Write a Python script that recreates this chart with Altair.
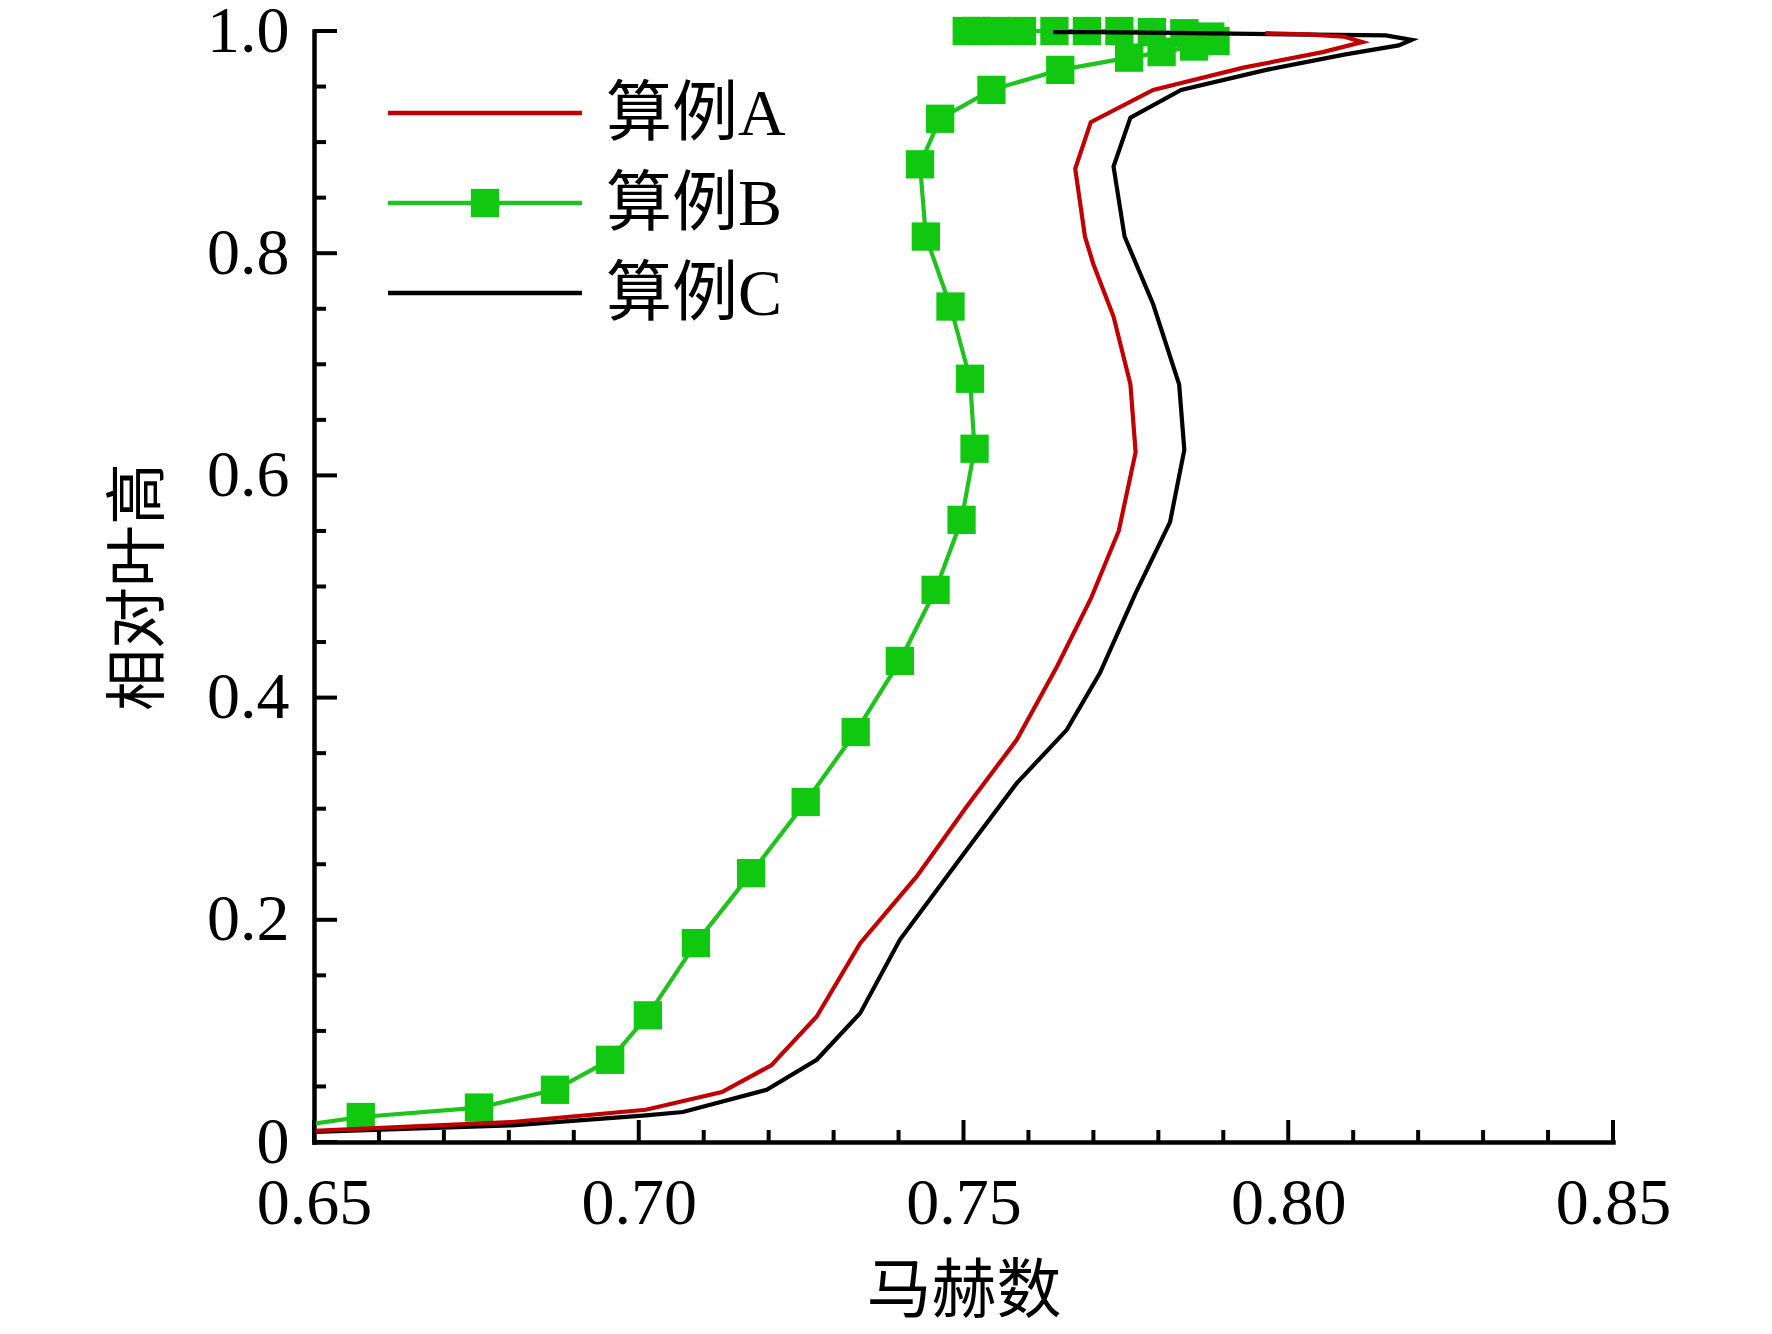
import altair as alt
import pandas as pd

# ---------------- data ----------------
A_mach = [0.6500, 0.6805, 0.7011, 0.7128, 0.7204, 0.7274, 0.7341, 0.7428, 0.7505,
          0.7582, 0.7644, 0.7696, 0.7739, 0.7765, 0.7757, 0.7731, 0.7700, 0.7687,
          0.7672, 0.7696, 0.7792, 0.7931, 0.8053, 0.8114, 0.8085, 0.8030, 0.7965]
A_h = [0.010, 0.018, 0.029, 0.045, 0.069, 0.113, 0.179, 0.239, 0.302,
       0.362, 0.428, 0.489, 0.550, 0.621, 0.682, 0.743, 0.790, 0.815,
       0.876, 0.918, 0.947, 0.967, 0.981, 0.990, 0.995, 0.997, 0.998]

B_mach = [0.6500, 0.6572, 0.6754, 0.6871, 0.6956, 0.7014, 0.7088, 0.7173, 0.7257,
          0.7334, 0.7402, 0.7457, 0.7497, 0.7517, 0.7510, 0.7480, 0.7442, 0.7433,
          0.7464, 0.7543, 0.7649, 0.7755, 0.7805, 0.7855, 0.7888, 0.7880, 0.7840,
          0.7790, 0.7740, 0.7690, 0.7640, 0.7590, 0.7550, 0.7520, 0.7505]
B_h = [0.0165, 0.0225, 0.031, 0.047, 0.074, 0.114, 0.179, 0.242, 0.306,
       0.369, 0.433, 0.497, 0.560, 0.624, 0.687, 0.752, 0.815, 0.880,
       0.921, 0.947, 0.965, 0.976, 0.981, 0.986, 0.991, 0.995, 0.998,
       0.999, 1.000, 1.000, 1.000, 1.000, 1.000, 1.000, 1.000]

C_mach = [0.6500, 0.6805, 0.7011, 0.7068, 0.7197, 0.7274, 0.7341, 0.7402, 0.7505,
          0.7582, 0.7659, 0.7710, 0.7765, 0.7818, 0.7840, 0.7832, 0.7792, 0.7748,
          0.7731, 0.7757, 0.7835, 0.7966, 0.8088, 0.8170, 0.8190, 0.8150, 0.8000,
          0.7850, 0.7700, 0.7638]
C_h = [0.009, 0.015, 0.024, 0.027, 0.047, 0.074, 0.116, 0.182, 0.263,
       0.323, 0.371, 0.422, 0.494, 0.558, 0.623, 0.682, 0.754, 0.815,
       0.878, 0.922, 0.947, 0.965, 0.979, 0.987, 0.992, 0.996, 0.997,
       0.998, 0.999, 0.999]

case_names = ["算例A", "算例B", "算例C"]
x_major = [0.65, 0.70, 0.75, 0.80, 0.85]
x_minor = [0.66, 0.67, 0.68, 0.69, 0.71, 0.72, 0.73, 0.74, 0.76, 0.77, 0.78, 0.79,
           0.81, 0.82, 0.83, 0.84]
y_major = [0.0, 0.2, 0.4, 0.6, 0.8, 1.0]
y_minor = [0.05, 0.10, 0.15, 0.25, 0.30, 0.35, 0.45, 0.50, 0.55, 0.65, 0.70, 0.75,
           0.85, 0.90, 0.95]
x_title = "马赫数"
y_title = "相对叶高"

# ---------------- styling ----------------
W, H = 1299, 1111
FONT = "Liberation Serif, Noto Sans CJK SC"
RED = "#C00000"
GREEN_LINE = "#1EC31E"
GREEN_MARK = "#10C810"
BLACK = "#000000"


def frame(xs, ys):
    return pd.DataFrame({"mach": xs, "h": ys, "idx": list(range(len(xs)))})


dfA, dfB, dfC = frame(A_mach, A_h), frame(B_mach, B_h), frame(C_mach, C_h)

xscale = alt.Scale(domain=[0.65, 0.85], nice=False, zero=False)
yscale = alt.Scale(domain=[0.0, 1.0], nice=False, zero=False)

xaxis = alt.Axis(values=x_major, format=".2f", ticks=False, tickSize=0, grid=False,
                 domain=True, domainWidth=4.5, domainColor="black", domainCap="square",
                 labelFont=FONT, labelFontSize=66, labelColor="black", labelPadding=29,
                 labelFlush=False, labelOverlap=False,
                 title=x_title, titleFont=FONT, titleFontSize=65, titleFontWeight="normal",
                 titleColor="black", titleY=149, titleBaseline="middle")
yaxis = alt.Axis(values=y_major, ticks=False, tickSize=0, grid=False,
                 labelExpr="datum.value == 0 ? '0' : format(datum.value, '.1f')",
                 domain=True, domainWidth=4.5, domainColor="black", domainCap="square",
                 labelFont=FONT, labelFontSize=66, labelColor="black", labelPadding=25,
                 labelFlush=False, labelOverlap=False, labelBaseline="middle",
                 title=y_title, titleFont=FONT, titleFontSize=62, titleFontWeight="normal",
                 titleColor="black", titleX=-175, titleY=H / 2, titleBaseline="middle",
                 titleAngle=270)

X = alt.X("mach:Q", scale=xscale, axis=xaxis)
Y = alt.Y("h:Q", scale=yscale, axis=yaxis)


def series_line(df, color):
    return alt.Chart(df).mark_line(color=color, strokeWidth=4.2).encode(
        x=X, y=Y, order="idx:Q")


lineB = series_line(dfB, GREEN_LINE)
pointsB = alt.Chart(dfB).transform_filter("datum.idx > 0").mark_square(
    size=800, color=GREEN_MARK, filled=True, opacity=1).encode(x=X, y=Y)
lineC = series_line(dfC, BLACK)
lineA = series_line(dfA, RED)


# inward ticks
def xticks(vals, length):
    return alt.Chart(pd.DataFrame({"mach": vals})).mark_rule(color="black", strokeWidth=4).encode(
        x=X, y=alt.value(H), y2=alt.value(H - length))


def yticks(vals, length):
    return alt.Chart(pd.DataFrame({"h": vals})).mark_rule(color="black", strokeWidth=4).encode(
        y=Y, x=alt.value(0), x2=alt.value(length))


ticks = [xticks(x_major, 22), xticks(x_minor, 12), yticks(y_major, 23), yticks(y_minor, 12)]

# legend (drawn in the upper-left corner of the plot)
leg_colors = [RED, GREEN_LINE, BLACK]
leg_y = [82, 172, 262]
legend_layers = []
for name, col, yy in zip(case_names, leg_colors, leg_y):
    one = pd.DataFrame({"label": [name]})
    legend_layers.append(alt.Chart(one).mark_rule(color=col, strokeWidth=4.5).encode(
        x=alt.value(74), x2=alt.value(268), y=alt.value(yy)))
    legend_layers.append(alt.Chart(one).mark_text(
        align="left", baseline="middle", font=FONT, fontSize=66, color="black").encode(
        x=alt.value(292), y=alt.value(yy + 2), text="label:N"))
legend_layers.append(alt.Chart(pd.DataFrame({"label": [case_names[1]]})).mark_square(
    size=800, color=GREEN_MARK, filled=True, opacity=1).encode(
    x=alt.value(171), y=alt.value(leg_y[1])))

chart = alt.layer(lineB, pointsB, lineC, lineA, *ticks, *legend_layers).properties(
    width=W, height=H,
    autosize=alt.AutoSizeParams(type="none"),
    padding={"left": 306, "top": 23, "right": 151, "bottom": 184},
    background="white",
).configure_view(stroke=None)

chart.save("out.html", embed_options={"renderer": "svg", "actions": False})
